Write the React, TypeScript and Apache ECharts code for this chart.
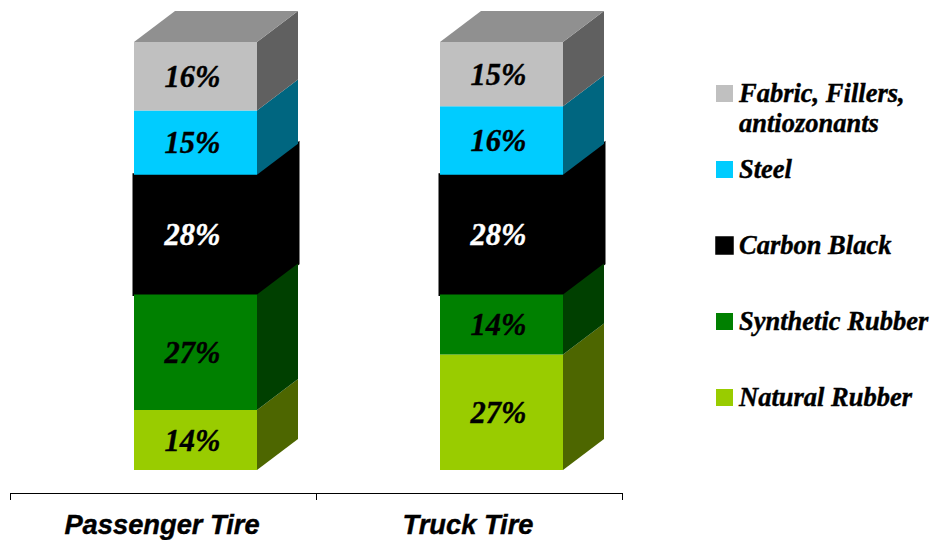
import React, { useEffect, useRef } from "react";
import * as echarts from "echarts";

// Tire composition, share of each material in percent.
const tires = ["Passenger Tire", "Truck Tire"];
const naturalRubber = [14, 27];
const syntheticRubber = [27, 14];
const carbonBlack = [28, 28];
const steel = [15, 16];
const fabric = [16, 15];

const materials = [
  { name: "Natural Rubber", values: naturalRubber, front: "#99cc00", side: "#4d6600", text: "#000000", z: 2 },
  { name: "Synthetic Rubber", values: syntheticRubber, front: "#008000", side: "#004000", text: "#000000", z: 2 },
  { name: "Carbon Black", values: carbonBlack, front: "#000000", side: "#000000", text: "#ffffff", z: 1 },
  { name: "Steel", values: steel, front: "#00ccff", side: "#006680", text: "#000000", z: 2 },
  { name: "Fabric, Fillers, antiozonants", values: fabric, front: "#c0c0c0", side: "#606060", text: "#000000", z: 2 },
];

// Legend rows run top to bottom, opposite to the stacking order.
const legendRows = [
  { lines: ["Fabric, Fillers,", "antiozonants"], color: "#c0c0c0", y: 94 },
  { lines: ["Steel"], color: "#00ccff", y: 170 },
  { lines: ["Carbon Black"], color: "#000000", y: 246 },
  { lines: ["Synthetic Rubber"], color: "#008000", y: 322 },
  { lines: ["Natural Rubber"], color: "#99cc00", y: 398 },
];

const SERIF = '"Liberation Serif", "Times New Roman", serif';
const DEPTH_X = 41;
const DEPTH_Y = 31;
const BOX_WIDTH = 123;
const BOX_SHIFT = 32; // the box front sits right of its category's centre

const makeSeries = (m: (typeof materials)[number], index: number) => {
  const data = tires.map((_, c) => {
    const start = materials.slice(0, index).reduce((sum, o) => sum + o.values[c], 0);
    return [c, start, start + m.values[c]];
  });
  const isTop = index === materials.length - 1;
  const strokeWidth = m.name === "Carbon Black" ? 3 : 0;
  return {
    type: "custom",
    name: m.name,
    z: m.z,
    clip: false,
    encode: { x: 0, y: [1, 2] },
    data,
    renderItem: (_params: any, api: any) => {
      const low = api.coord([api.value(0), api.value(1)]);
      const high = api.coord([api.value(0), api.value(2)]);
      const x0 = low[0] + BOX_SHIFT - BOX_WIDTH / 2;
      const x1 = x0 + BOX_WIDTH;
      const y0 = low[1];
      const y1 = high[1];
      const faceStyle = (fill: string) => ({
        fill,
        stroke: strokeWidth ? fill : null,
        lineWidth: strokeWidth,
      });
      const children: any[] = [
        {
          type: "polygon",
          shape: { points: [[x1, y0], [x1 + DEPTH_X, y0 - DEPTH_Y], [x1 + DEPTH_X, y1 - DEPTH_Y], [x1, y1]] },
          style: faceStyle(m.side),
        },
        {
          type: "rect",
          shape: { x: x0, y: y1, width: BOX_WIDTH, height: y0 - y1 },
          style: faceStyle(m.front),
        },
      ];
      if (isTop) {
        children.push({
          type: "polygon",
          shape: { points: [[x0, y1], [x0 + DEPTH_X, y1 - DEPTH_Y], [x1 + DEPTH_X, y1 - DEPTH_Y], [x1, y1]] },
          style: { fill: "#909090" },
        });
      }
      children.push({
        type: "text",
        style: {
          text: `${api.value(2) - api.value(1)}%`,
          x: x0 + BOX_WIDTH / 2 - 3,
          y: (y0 + y1) / 2 + 0.5,
          align: "center",
          verticalAlign: "middle",
          fill: m.text,
          stroke: m.text,
          lineWidth: 0.4,
          font: `italic bold 30.5px ${SERIF}`,
        },
      });
      return { type: "group", children };
    },
  };
};

const legendGraphics = legendRows.flatMap((row) => {
  const isBlack = row.color === "#000000";
  const firstY = row.y;
  return [
    {
      type: "rect",
      shape: { x: 716, y: firstY - 9, width: 17, height: 17 },
      style: { fill: row.color, stroke: isBlack ? row.color : null, lineWidth: isBlack ? 1.5 : 0 },
    },
    ...row.lines.map((line, i) => ({
      type: "text",
      style: {
        text: line,
        x: 739,
        y: firstY - 1 + i * 30,
        align: "left",
        verticalAlign: "middle",
        fill: "#000000",
        stroke: "#000000",
        lineWidth: 0.4,
        font: `italic bold 26.5px ${SERIF}`,
      },
    })),
  ];
});

export default function App() {
  const ref = useRef<HTMLDivElement>(null);
  useEffect(() => {
    const chart = echarts.init(ref.current!, undefined, { renderer: "svg" });
    chart.setOption({
      animation: false,
      backgroundColor: "#ffffff",
      grid: { left: 10.5, top: 42, width: 612, height: 428 },
      xAxis: {
        type: "category",
        data: tires,
        offset: 23,
        axisLine: { show: true, onZero: false, lineStyle: { color: "#000000", width: 1 } },
        axisTick: { show: true, length: 7, lineStyle: { color: "#000000", width: 1 } },
        axisLabel: {
          color: "#000000",
          margin: 18,
          padding: [0, 3, 0, 0],
          fontFamily: '"Liberation Sans", Arial, sans-serif',
          fontStyle: "italic",
          fontWeight: "bold",
          fontSize: 27.3,
          textBorderColor: "#000000",
          textBorderWidth: 0.4,
        },
      },
      yAxis: { type: "value", min: 0, max: 100, show: false },
      series: materials.map(makeSeries),
      graphic: legendGraphics,
    });
    return () => chart.dispose();
  }, []);
  return <div ref={ref} style={{ position: "fixed", left: 0, top: 0, width: 936, height: 540 }} />;
}
